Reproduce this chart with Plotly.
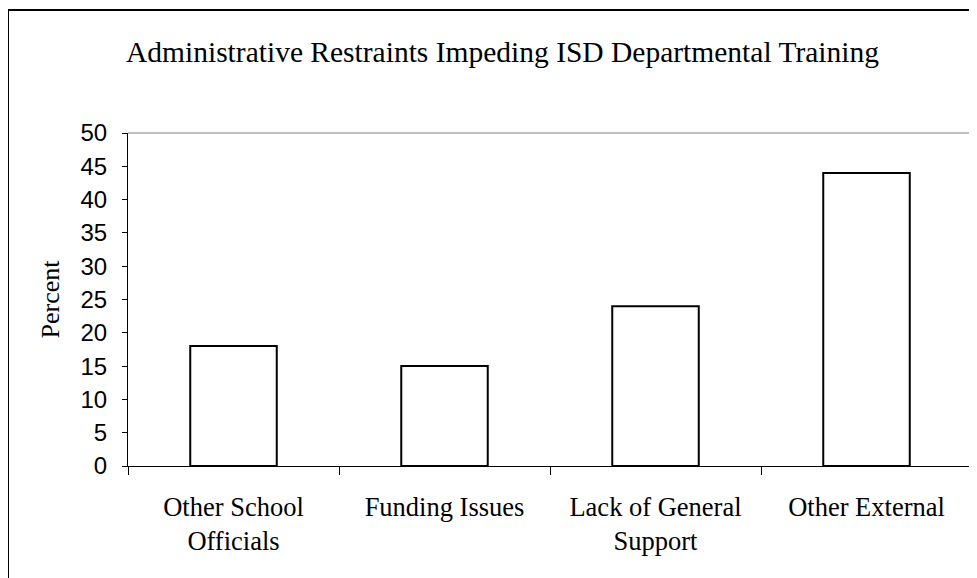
import plotly.graph_objects as go

categories = ["Other School<br>Officials", "Funding Issues", "Lack of General<br>Support", "Other External"]
values = [18, 15, 24, 44]
y_ticks = [0, 5, 10, 15, 20, 25, 30, 35, 40, 45, 50]
title_text = "Administrative Restraints Impeding ISD Departmental Training"

# page body has an 8px margin, so work in figure coords = screen - 8
OFF = 8
W, H = 977, 578
L, T = 128 - OFF, 133 - OFF
R = W - (972 - OFF)
B = H - (466 - OFF)
pw = W - L - R
ph = H - T - B

def px_x(x):
    return (x - OFF - L) / pw

def px_y(y):
    return (H - B - (y - OFF)) / ph

fig = go.Figure()
fig.add_trace(go.Bar(
    x=categories, y=values, width=0.41,
    marker=dict(color="white", line=dict(color="black", width=2)),
    hoverinfo="skip",
))

serif = "Liberation Serif, Times New Roman, serif"
sans = "Liberation Sans, Arial, sans-serif"

fig.update_layout(
    width=W, height=H,
    margin=dict(l=L, r=R, t=T, b=B),
    paper_bgcolor="white", plot_bgcolor="white",
    showlegend=False,
    xaxis=dict(
        showline=True, linecolor="black", linewidth=1,
        ticks="outside", ticklen=8, tickcolor="black", tickwidth=1,
        tickson="boundaries",
        ticklabelstandoff=17,
        tickfont=dict(family=serif, size=26.5, color="black"),
        showgrid=False, zeroline=False,
    ),
    yaxis=dict(
        range=[0, 50], tickvals=y_ticks,
        showline=True, linecolor="black", linewidth=1,
        ticks="outside", ticklen=5, tickcolor="black", tickwidth=1,
        ticklabelstandoff=10,
        tickfont=dict(family=sans, size=24, color="black"),
        showgrid=False, zeroline=False,
        title=dict(text="Percent", font=dict(family=serif, size=26, color="black"), standoff=13),
    ),
    annotations=[dict(
        text=title_text, xref="paper", yref="paper",
        x=px_x(502), y=px_y(52), xanchor="center", yanchor="middle",
        showarrow=False, font=dict(family=serif, size=29.5, color="black"),
    )],
    shapes=[
        dict(type="line", xref="paper", yref="paper", x0=0, x1=1, y0=1, y1=1,
             line=dict(color="#808080", width=1)),
        dict(type="line", xref="paper", yref="paper", x0=1, x1=1, y0=0, y1=1,
             line=dict(color="#808080", width=1)),
        dict(type="line", xref="paper", yref="paper", x0=px_x(8), x1=px_x(8), y0=px_y(620), y1=px_y(10),
             line=dict(color="black", width=2)),
        dict(type="line", xref="paper", yref="paper", x0=px_x(8), x1=px_x(1020), y0=px_y(10), y1=px_y(10),
             line=dict(color="black", width=2)),
    ],
)

fig.write_html("out.html")
